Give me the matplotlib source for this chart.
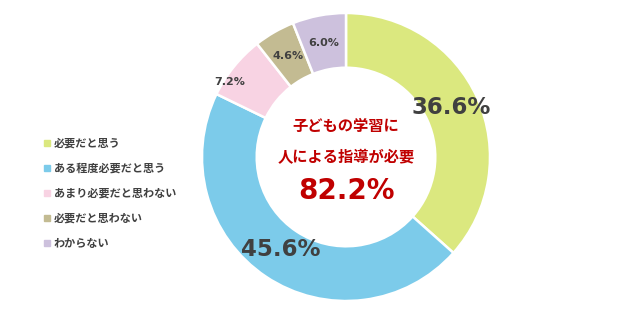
import matplotlib.pyplot as plt
from matplotlib.patches import Rectangle

plt.rcParams['font.family'] = ['Noto Sans CJK JP', 'DejaVu Sans']

# ========================================
# DATA
# ========================================
categories = ['必要だと思う', 'ある程度必要だと思う', 'あまり必要だと思わない',
              '必要だと思わない', 'わからない']
values = [36.6, 45.6, 7.2, 4.6, 6.0]
colors = ['#dbe87f', '#7ccbea', '#f8d3e3', '#c3bb92', '#cdc1dd']
center_lines = ['子どもの学習に', '人による指導が必要']
center_total = '82.2%'

# ========================================
# FIGURE
# ========================================
W, H = 640, 312
fig = plt.figure(figsize=(W / 100, H / 100), dpi=100)

cx, cy, r = 346, 157, 144
ax = fig.add_axes([(cx - r) / W, (H - cy - r) / H, 2 * r / W, 2 * r / H])
wedges, _ = ax.pie(values, colors=colors, startangle=90, counterclock=False,
                   radius=1.0, wedgeprops=dict(width=0.38, edgecolor='white', linewidth=1.8))
ax.set_xlim(-1, 1)
ax.set_ylim(-1, 1)
ax.set_aspect('equal')
ax.axis('off')

# slice labels (pixel positions of the reference)
num_font = ['DejaVu Sans']
label_pos = [(451, 107, 16.5), (281, 250, 16.5), (230, 82, 8), (288, 56, 8), (324, 43, 8)]
for v, (px, py, fs) in zip(values, label_pos):
    fig.text(px / W, 1 - py / H, f'{v:.1f}%', ha='center', va='center',
             fontsize=fs, fontweight='bold', color='#404040', family=num_font)

# center text
fig.text(cx / W, 1 - 126 / H, center_lines[0], ha='center', va='center',
         fontsize=11, fontweight='bold', color='#c00000')
fig.text(cx / W, 1 - 157 / H, center_lines[1], ha='center', va='center',
         fontsize=11, fontweight='bold', color='#c00000')
fig.text(cx / W, 1 - 191 / H, center_total, ha='center', va='center',
         fontsize=20, fontweight='bold', color='#c00000', family=num_font)

# legend
for i, (cat, c) in enumerate(zip(categories, colors)):
    y = 143 + 25 * i
    fig.add_artist(Rectangle((44 / W, 1 - (y + 3) / H), 6 / W, 6 / H,
                             transform=fig.transFigure, color=c))
    fig.text(54 / W, 1 - y / H, cat, ha='left', va='center',
             fontsize=8, fontweight='bold', color='#404040')

fig.savefig('out.png', dpi=100)
